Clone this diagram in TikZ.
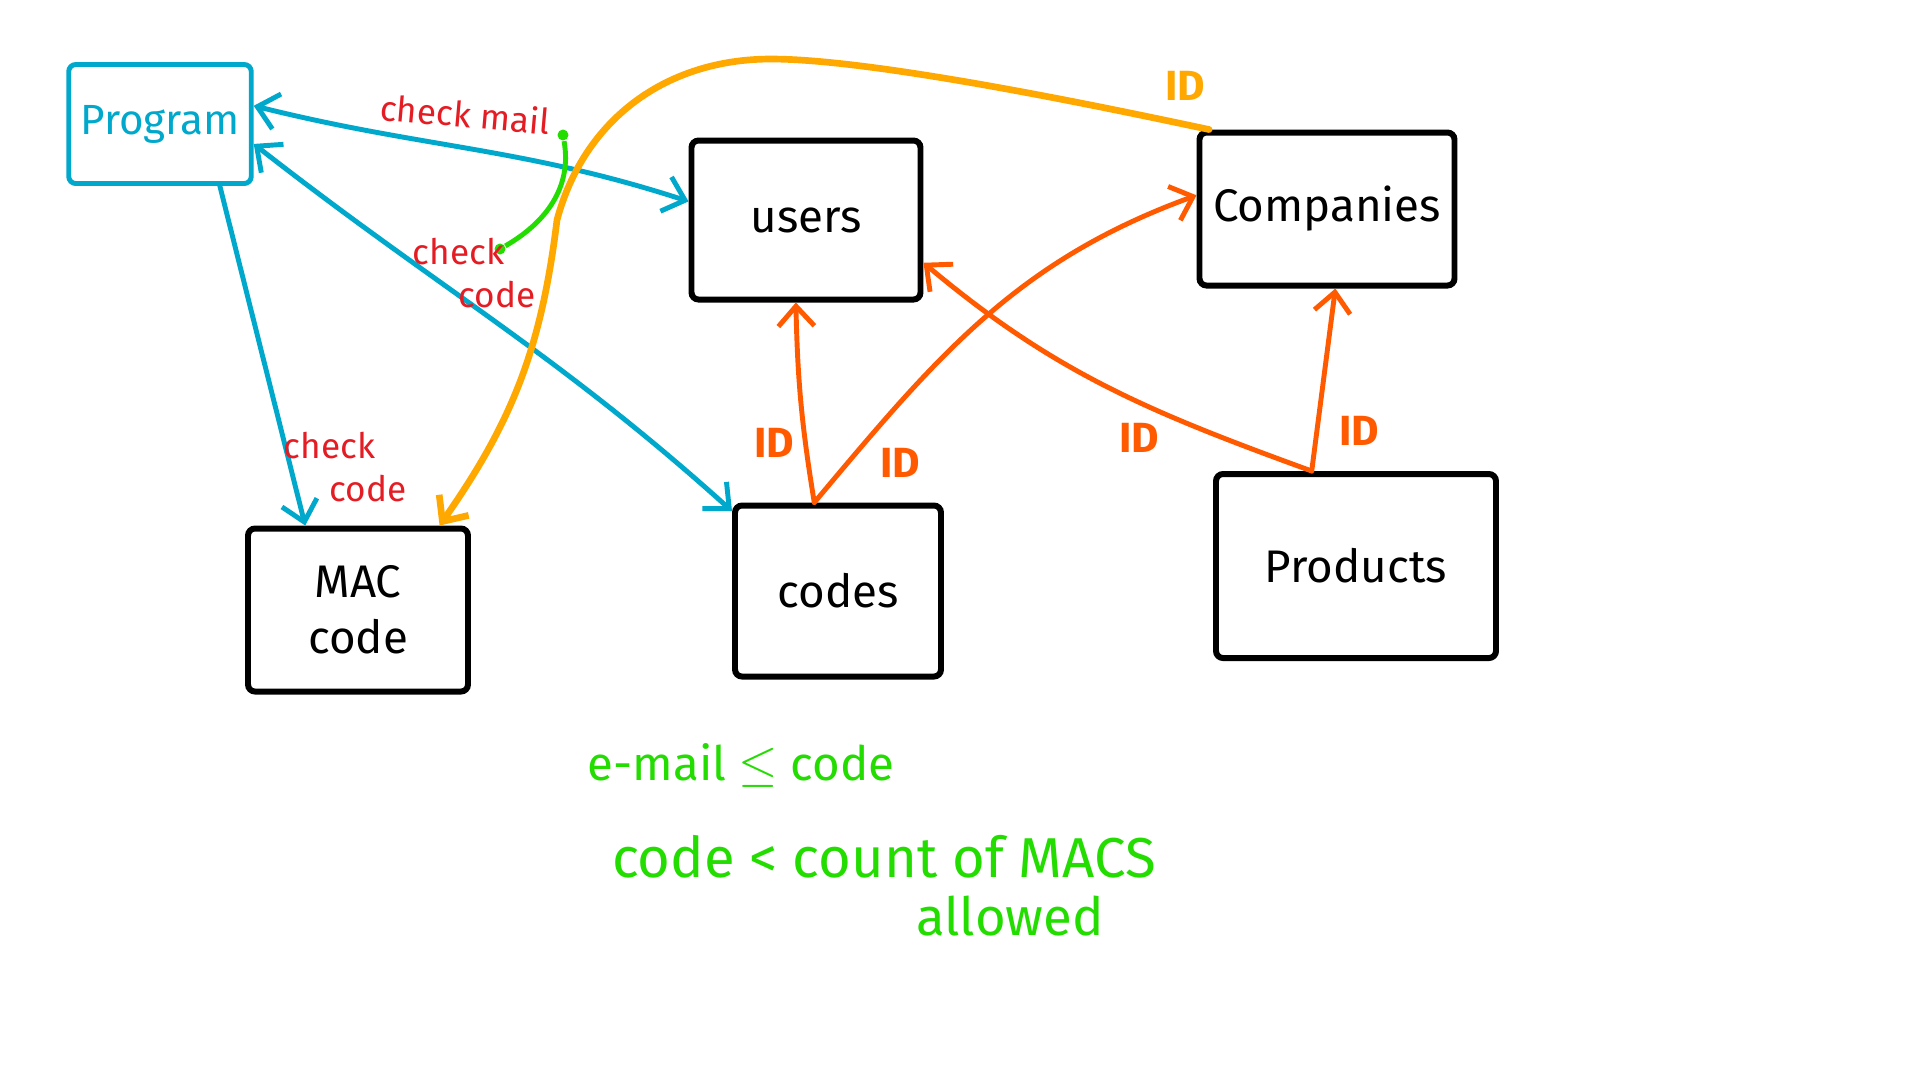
\documentclass[tikz,border=0pt]{standalone}
\usepackage{fontspec}
\setmainfont{Fira Sans}
\usetikzlibrary{arrows.meta}

\definecolor{penblue}{RGB}{0,168,204}
\definecolor{penred}{RGB}{228,28,35}
\definecolor{penorange}{RGB}{255,90,0}
\definecolor{penamber}{RGB}{255,168,0}
\definecolor{pengreen}{RGB}{35,220,0}

\newcommand{\boxfont}{\fontsize{13}{16}\selectfont}
\newcommand{\notefont}{\fontsize{10}{12}\selectfont}
\newcommand{\rulefont}{\fontsize{16}{19}\selectfont}
\newcommand{\barb}{Straight Barb[length=2mm,width=3.6mm]}

\tikzset{
  tablebox/.style={draw, line width=1.7pt, rounded corners=2pt, font=\boxfont, align=center},
  link/.style={-{\barb}, line width=1.4pt, line cap=round},
  bilink/.style={{\barb}-{\barb}, line width=1.4pt, line cap=round},
  note/.style={text=penred, font=\notefont},
  idnote/.style={text=penorange, font=\fontsize{12}{14}\selectfont\bfseries},
  rulenote/.style={text=pengreen, font=\rulefont},
  dot/.style={circle, fill=pengreen, inner sep=0pt, minimum size=1.1mm}
}

\begin{document}
\begin{tikzpicture}[x=0.1mm, y=-0.1mm]
    \fill[white] (0,0) rectangle (1920,1080);
    \useasboundingbox (0,0) rectangle (1920,1080);

    \node[tablebox, draw=penblue, line width=1.4pt, text=penblue, font=\fontsize{12}{14}\selectfont,
          minimum width=18.1mm, minimum height=11.9mm] (program) at (160,124) {Program};
    \node[tablebox, minimum width=22.9mm, minimum height=15.9mm] (users) at (806,220) {users};
    \node[tablebox, minimum width=25.5mm, minimum height=15.3mm] (companies) at (1327,209) {Companies};
    \node[tablebox, minimum width=22mm, minimum height=16.3mm] (mac) at (358,610) {MAC\\code};
    \node[tablebox, minimum width=20.6mm, minimum height=17.1mm] (codes) at (838,591) {codes};
    \node[tablebox, minimum width=28mm, minimum height=18.4mm] (products) at (1356,566) {Products};

    \coordinate (amberpeak) at (771,59);
    \coordinate (amberbend) at (557,220);

    \draw[bilink, penblue] (program.11) to[out=-14,in=162] (users.171);
    \draw[bilink, penblue] (program.-12) to[out=-38,in=138] (codes.143);
    \draw[link, penblue] (program.-46) -- (mac.122);
    \draw[link, penamber, line width=1.9pt] (companies.146) to[out=168,in=0,looseness=0.6] (amberpeak)
        to[out=180,in=75] (amberbend) to[out=-97,in=55] (mac.46);

    \draw[link, penorange] (codes.105) to[bend left=4] (users.-97);
    \draw[link, penorange] (codes.105) to[out=50,in=200] (companies.174);
    \draw[link, penorange] (products.115) to[out=160,in=-40] (users.-20);
    \draw[link, penorange] (products.115) -- (companies.-84);

    \node[dot] (maildot) at (563,135) {};
    \node[dot] (codedot) at (500,249) {};
    \draw[pengreen, line width=1.4pt] (maildot) to[out=-80,in=30] (codedot);

    \node[note, rotate=-5] (checkmail) at (465,114) {check mail};
    \node[note, align=left] (checkcode) at (474,273) {check\\\hspace*{1.3em}code};
    \node[note, align=left] (checkmac) at (345,467) {check\\\hspace*{1.3em}code};

    \node[idnote] (idusers) at (774,443) {ID};
    \node[idnote] (idcomp) at (900,463) {ID};
    \node[idnote] (idprod) at (1139,438) {ID};
    \node[idnote] (idprodcomp) at (1359,431) {ID};
    \node[idnote, text=penamber] (idmac) at (1185,86) {ID};

    \node[rulenote, font=\fontsize{13.5}{16}\selectfont] (rulemail) at (741,765) {e-mail $\leq$ code};
    \node[rulenote] (rulemacs) at (884,857) {code < count of MACS};
    \node[rulenote, font=\fontsize{15}{18}\selectfont] (rulemacsb) at (1010,916) {allowed};
\end{tikzpicture}
\end{document}
